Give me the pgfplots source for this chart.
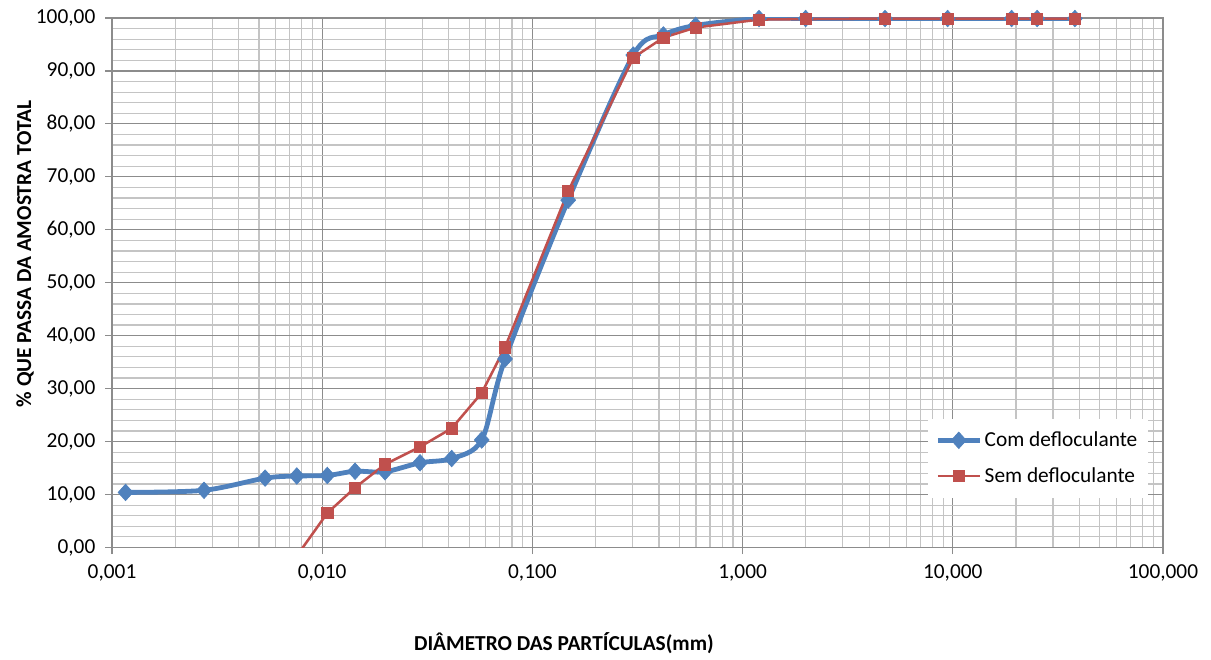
\documentclass[border=0pt]{standalone}
\usepackage{pgfplots}
\pgfplotsset{compat=1.18}
\usepackage{fontspec}
\setmainfont{Carlito}
\definecolor{comdef}{HTML}{4F81BD}
\definecolor{semdef}{HTML}{C0504D}
\definecolor{gridmaj}{HTML}{8C8C8C}
\definecolor{gridmin}{HTML}{C4C4C4}

\begin{document}
\begin{tikzpicture}
\begin{axis}[
scale only axis,
width=788pt,height=397pt,
xmode=log,
xmin=0.001,xmax=100,
ymin=0,ymax=100,
xtick={0.001,0.01,0.1,1,10,100},
xticklabels={{0,001},{0,010},{0,100},{1,000},{10,000},{100,000}},
minor xtick={0.002,0.003,0.004,0.005,0.006,0.007,0.008,0.009,
0.02,0.03,0.04,0.05,0.06,0.07,0.08,0.09,
0.2,0.3,0.4,0.5,0.6,0.7,0.8,0.9,
2,3,4,5,6,7,8,9,20,30,40,50,60,70,80,90},
ytick={0,10,...,100},
minor y tick num=4,
grid=both,
major grid style={gridmaj,line width=0.9pt},
minor grid style={gridmin,line width=0.9pt},
axis line style={gridmaj,line width=0.9pt},
tick style={gridmaj,line width=0.9pt},
tick align=outside,
tick pos=left,
major tick length=5pt,
minor tick length=0pt,
font=\fontsize{16}{19}\selectfont,
yticklabel style={xshift=-4pt,/pgf/number format/.cd,fixed,fixed zerofill,precision=2,use comma,assume math mode=true},
xticklabel style={yshift=-4pt},
xlabel={\bfseries DIÂMETRO DAS PARTÍCULAS(mm)},
ylabel={\bfseries \% QUE PASSA DA AMOSTRA TOTAL},
xlabel style={at={(axis description cs:0.43,-0.1815)},anchor=center},
ylabel style={at={(axis description cs:-0.0828,0.554)},anchor=center},
legend style={at={(axis description cs:0.986,0.244)},anchor=north east,
  draw=none,fill=white,row sep=10pt,inner xsep=6pt,inner ysep=8pt,
  font=\fontsize{16}{19}\selectfont},
legend cell align=left,
legend image code/.code={\draw[mark repeat=2,mark phase=2]
  plot coordinates {(0cm,0cm)(0.55cm,0cm)(1.1cm,0cm)};},
]
\addplot[comdef,line width=3.6pt,smooth,mark=diamond*,mark size=6.2pt,
  mark options={solid,line width=0.5pt,fill=comdef,xscale=1.2}] coordinates {
(0.00116,10.4)(0.00274,10.8)(0.00535,13.1)(0.00757,13.5)(0.01057,13.6)
(0.01433,14.4)(0.0199,14.3)(0.0292,16.0)(0.0413,16.8)(0.0574,20.3)
(0.0741,35.6)(0.148,65.6)(0.302,93.0)(0.42,96.8)(0.598,98.6)
(1.197,99.9)(1.995,99.9)(4.76,99.9)(9.45,99.9)(19.05,99.9)(25.2,99.9)(38.1,99.9)
};
\addplot[semdef,line width=1.9pt,mark=square*,mark size=4.2pt,
  mark options={solid,line width=0.5pt,fill=semdef}] coordinates {
(0.01057,6.5)(0.01433,11.3)(0.0199,15.7)(0.0292,19.0)(0.0413,22.5)
(0.0574,29.2)(0.0741,37.8)(0.148,67.3)(0.302,92.5)(0.42,96.3)(0.598,98.2)
(1.197,99.7)(1.995,99.8)(4.76,99.9)(9.45,99.9)(19.05,99.9)(25.2,99.9)(38.1,99.9)
};
\addplot[semdef,line width=1.9pt,forget plot] coordinates {
(0.0054,-9.8)(0.01057,6.5)
};
\legend{Com defloculante,Sem defloculante}
\end{axis}
\pgfresetboundingbox
\path ([xshift=-84pt,yshift=-84pt]current axis.south west) rectangle ([xshift=36pt,yshift=13.5pt]current axis.north east);
\end{tikzpicture}
\end{document}
